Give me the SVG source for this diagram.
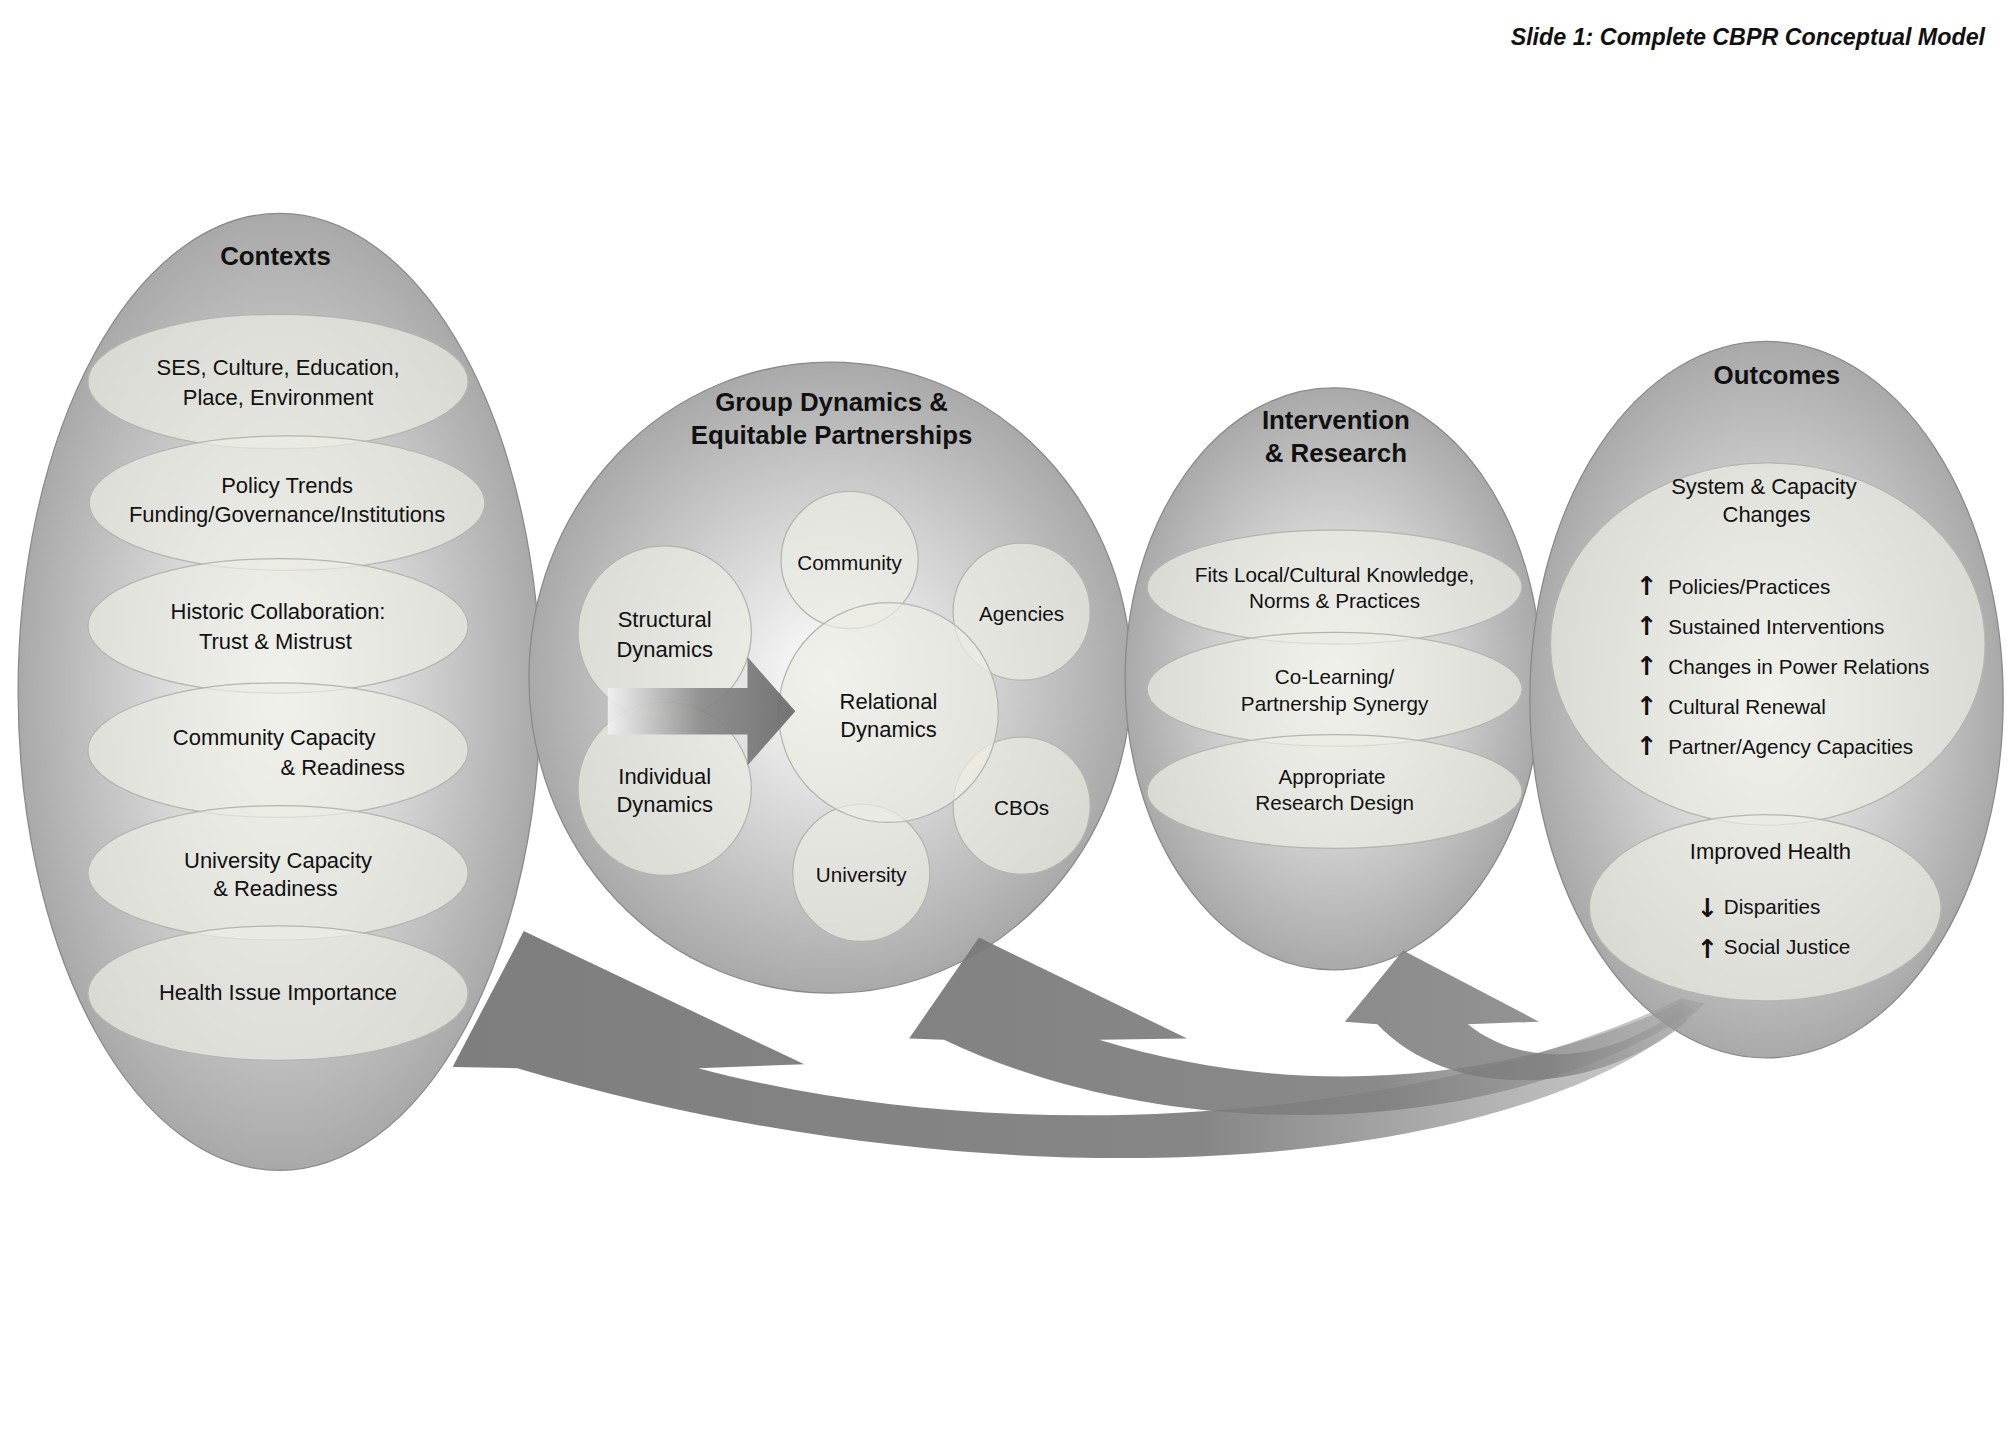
<svg xmlns="http://www.w3.org/2000/svg" width="2016" height="1440" viewBox="0 0 2016 1440">
<style>
text{font-family:"Liberation Sans",Arial,sans-serif;fill:#111;text-anchor:middle}
.t{font-size:17px}
.h{font-size:20px;font-weight:bold}
.s{font-size:16px}
.l{text-anchor:start;font-size:16px}
.ar{font-family:"DejaVu Sans",sans-serif;font-weight:bold;font-size:20px;text-anchor:start}
.big{stroke:#8a8a8a;stroke-width:1;fill:url(#rg)}
.in{fill:#ecebe4;fill-opacity:0.72;stroke:#b5b5b0;stroke-width:1}
</style>
<defs>
<radialGradient id="rg" cx="0.5" cy="0.5" r="0.5">
<stop offset="0" stop-color="#ffffff"/><stop offset="0.55" stop-color="#d0d0d0"/><stop offset="1" stop-color="#a9a9a9"/>
</radialGradient>
<linearGradient id="ag" x1="0" y1="0" x2="1" y2="0">
<stop offset="0" stop-color="#777"/><stop offset="0.6" stop-color="#808080"/><stop offset="1" stop-color="#999" stop-opacity="0.5"/>
</linearGradient>
<linearGradient id="ah" x1="0" y1="0" x2="1" y2="0">
<stop offset="0" stop-color="#f2f2f2"/><stop offset="0.5" stop-color="#888"/><stop offset="1" stop-color="#666"/>
</linearGradient>
</defs>
<rect width="2016" height="1440" fill="#fff"/>
<g transform="scale(1.2932)">
<text x="1535" y="35" style="font-size:18px;font-weight:bold;font-style:italic;text-anchor:end">Slide 1: Complete CBPR Conceptual Model</text>

<g id="contexts">
<ellipse class="big" cx="216" cy="535" rx="202" ry="370"/>
<text class="h" x="213" y="205">Contexts</text>
<ellipse class="in" cx="215" cy="295" rx="147" ry="52"/>
<text class="t" x="215" y="290">SES, Culture, Education,</text><text class="t" x="215" y="313">Place, Environment</text>
<ellipse class="in" cx="222" cy="389" rx="153" ry="52"/>
<text class="t" x="222" y="381">Policy Trends</text><text class="t" x="222" y="404">Funding/Governance/Institutions</text>
<ellipse class="in" cx="215" cy="484" rx="147" ry="52"/>
<text class="t" x="215" y="479">Historic Collaboration:</text><text class="t" x="213" y="502">Trust &amp; Mistrust</text>
<ellipse class="in" cx="215" cy="580" rx="147" ry="52"/>
<text class="t" x="212" y="576">Community Capacity</text><text class="t" x="265" y="599">&amp; Readiness</text>
<ellipse class="in" cx="215" cy="675" rx="147" ry="52"/>
<text class="t" x="215" y="671">University Capacity</text><text class="t" x="213" y="693">&amp; Readiness</text>
<ellipse class="in" cx="215" cy="768" rx="147" ry="52"/>
<text class="t" x="215" y="773">Health Issue Importance</text>
</g>

<g id="group-dynamics">
<ellipse class="big" cx="642" cy="524" rx="233" ry="244"/>
<text class="h" x="643" y="318">Group Dynamics &amp;</text>
<text class="h" x="643" y="343">Equitable Partnerships</text>
<circle class="in" cx="657" cy="433" r="53"/><text class="s" x="657" y="441">Community</text>
<circle class="in" cx="790" cy="473" r="53"/><text class="s" x="790" y="480">Agencies</text>
<circle class="in" cx="790" cy="623" r="53"/><text class="s" x="790" y="630">CBOs</text>
<circle class="in" cx="666" cy="675" r="53"/><text class="s" x="666" y="682">University</text>
<circle class="in" cx="687" cy="551" r="85"/>
<text class="t" x="687" y="548">Relational</text><text class="t" x="687" y="570">Dynamics</text>
<circle class="in" cx="514" cy="489" r="67"/>
<text class="t" x="514" y="485">Structural</text><text class="t" x="514" y="508">Dynamics</text>
<circle class="in" cx="514" cy="610" r="67"/>
<text class="t" x="514" y="606">Individual</text><text class="t" x="514" y="628">Dynamics</text>
<path d="M470,532 L578,532 L578,508 L615,550 L578,592 L578,568 L470,568 Z" fill="url(#ah)" fill-opacity="0.9"/>
</g>

<g id="intervention">
<ellipse class="big" cx="1031" cy="525" rx="161" ry="225"/>
<text class="h" x="1033" y="332">Intervention</text>
<text class="h" x="1033" y="357">&amp; Research</text>
<ellipse class="in" cx="1032" cy="454" rx="145" ry="44"/>
<text class="s" x="1032" y="450">Fits Local/Cultural Knowledge,</text><text class="s" x="1032" y="470">Norms &amp; Practices</text>
<ellipse class="in" cx="1032" cy="533" rx="145" ry="44"/>
<text class="s" x="1032" y="529">Co-Learning/</text><text class="s" x="1032" y="550">Partnership Synergy</text>
<ellipse class="in" cx="1032" cy="612" rx="145" ry="44"/>
<text class="s" x="1030" y="606">Appropriate</text><text class="s" x="1032" y="626">Research Design</text>
</g>

<g id="outcomes">
<ellipse class="big" cx="1366" cy="541" rx="183" ry="277"/>
<text class="h" x="1374" y="297">Outcomes</text>
<ellipse class="in" cx="1367" cy="498" rx="168" ry="140"/>
<text class="t" x="1364" y="382">System &amp; Capacity</text><text class="t" x="1366" y="404">Changes</text>
<text class="ar" x="1265" y="460">↑</text><text class="l" x="1290" y="459">Policies/Practices</text>
<text class="ar" x="1265" y="491">↑</text><text class="l" x="1290" y="490">Sustained Interventions</text>
<text class="ar" x="1265" y="522">↑</text><text class="l" x="1290" y="521">Changes in Power Relations</text>
<text class="ar" x="1265" y="553">↑</text><text class="l" x="1290" y="552">Cultural Renewal</text>
<text class="ar" x="1265" y="584">↑</text><text class="l" x="1290" y="583">Partner/Agency Capacities</text>
<ellipse class="in" cx="1365" cy="702" rx="136" ry="72"/>
<text class="t" x="1369" y="664">Improved Health</text>
<text class="ar" x="1312" y="709">↓</text><text class="l" x="1333" y="707">Disparities</text>
<text class="ar" x="1312" y="741">↑</text><text class="l" x="1333" y="738">Social Justice</text>
</g>

<g id="connectors">
<path d="M350,825 L405,720 L622,823 L540,826 C 800,895 1120,860 1300,772 L1318,776 C 1200,900 800,945 400,826 Z" fill="url(#ag)" fill-opacity="0.95"/>
<path d="M703,803 L757,725 L918,803 L850,804 C 1000,850 1160,840 1300,775 L1310,782 C 1150,885 900,885 730,804 Z" fill="url(#ag)" fill-opacity="0.92"/>
<path d="M1040,790 L1085,735 L1190,790 L1135,792 C 1170,820 1230,830 1300,780 L1305,790 C 1230,850 1120,850 1065,792 Z" fill="url(#ag)" fill-opacity="0.85"/>
</g>
</g>
</svg>
